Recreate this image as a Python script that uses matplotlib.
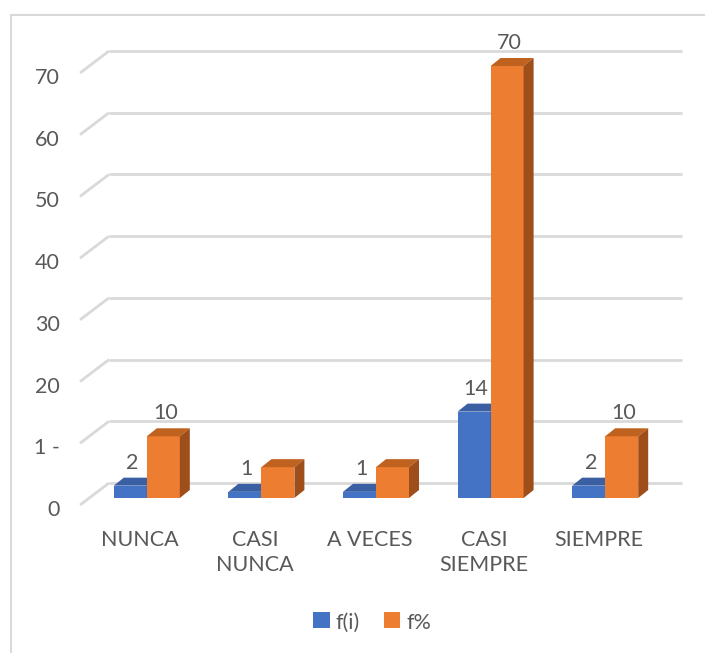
import matplotlib
matplotlib.use("Agg")
import matplotlib.pyplot as plt
from matplotlib.patches import Polygon, Patch
from matplotlib.lines import Line2D
import matplotlib.transforms as mtransforms

# ---- data ----
categories = ["NUNCA", "CASI\nNUNCA", "A VECES", "CASI\nSIEMPRE", "SIEMPRE"]
fi_values = [2, 1, 1, 14, 2]
fpct_values = [10, 5, 5, 70, 10]
fi_labels = ["2", "1", "1", "14", "2"]
fpct_labels = ["10", "", "", "70", "10"]
y_ticks = [0, 10, 20, 30, 40, 50, 60, 70]
y_tick_labels = ["0", "1 -", "20", "30", "40", "50", "60", "70"]
series_names = ["f(i)", "f%"]

W, H = 705, 653
fig = plt.figure(figsize=(W / 100, H / 100), dpi=100)
fig.patch.set_facecolor("white")

FONT = "Lato"
TXT = "#595959"
GRID = "#D9D9D9"
FS = 15.5

# front plane axes
ax = fig.add_axes([80 / W, 148 / H, 573 / W, 432 / H])
ax.set_xlim(-0.5, len(categories) - 0.5)
ax.set_ylim(0, 70)
ax.axis("off")

px_x = 573 / len(categories)     # pixels per category
px_y = 432 / 70                  # pixels per unit

# offsets (pixels)
back_off = mtransforms.ScaledTranslation(29 / 100, 22 / 100, fig.dpi_scale_trans)
bar_off = mtransforms.ScaledTranslation(9.5 / 100, 7 / 100, fig.dpi_scale_trans)
back_tr = ax.transData + back_off
bar_tr = ax.transData + bar_off

# gridlines (back wall + side diagonals)
xl0, xl1 = ax.get_xlim()
for v in y_ticks:
    ax.plot([xl0, xl1], [v, v], color=GRID, lw=2, transform=back_tr,
            zorder=1, solid_capstyle="butt", clip_on=False)
    dxd = 29 / px_x
    dyd = 22 / px_y
    ax.plot([xl0, xl0 + dxd], [v, v + dyd], color=GRID, lw=2,
            zorder=1, solid_capstyle="butt", clip_on=False)

# y tick labels
for v, lab in zip(y_ticks, y_tick_labels):
    ax.annotate(lab, xy=(xl0, v), xytext=(-20, -5), textcoords="offset pixels",
                ha="right", va="center", fontsize=FS, color=TXT, family=FONT,
                annotation_clip=False)

# bars
bw = 33 / px_x
ddx = 10 / px_x
ddy = 8 / px_y
colors = [("#4472C4", "#3A5FA3", "#2F528F"), ("#ED7D31", "#C0621F", "#9E4E1B")]

for i in range(len(categories)):
    for s, (vals, labs) in enumerate([(fi_values, fi_labels), (fpct_values, fpct_labels)]):
        h = vals[i]
        x0 = i - bw + s * bw
        x1 = x0 + bw
        front, top, side = colors[s]
        ax.bar(x0, h, width=bw, align="edge", color=front, transform=bar_tr,
               zorder=3 + s, clip_on=False, linewidth=0)
        ax.add_patch(Polygon([(x0, h), (x1, h), (x1 + ddx, h + ddy), (x0 + ddx, h + ddy)],
                             closed=True, facecolor=top, edgecolor="none",
                             transform=bar_tr, zorder=3 + s, clip_on=False))
        ax.add_patch(Polygon([(x1, 0), (x1, h), (x1 + ddx, h + ddy), (x1 + ddx, ddy)],
                             closed=True, facecolor=side, edgecolor="none",
                             transform=bar_tr, zorder=3 + s, clip_on=False))
        if labs[i]:
            ax.annotate(labs[i], xy=(x0 + bw / 2, h), xytext=(2, 13),
                        textcoords="offset pixels", xycoords=bar_tr,
                        ha="center", va="bottom", fontsize=FS, color=TXT,
                        family=FONT, annotation_clip=False, zorder=6)

# category labels
for i, cat in enumerate(categories):
    ax.annotate(cat, xy=(i, 0), xytext=(3, -25), textcoords="offset pixels",
                ha="center", va="top", fontsize=FS, color=TXT, family=FONT,
                linespacing=1.3, annotation_clip=False)

# legend
handles = [Patch(facecolor=colors[0][0], edgecolor="none"),
           Patch(facecolor=colors[1][0], edgecolor="none")]
leg = fig.legend(handles, series_names, loc="center", bbox_to_anchor=(372 / W, 30 / H),
                 ncol=2, frameon=False, handlelength=0.6, handleheight=0.6,
                 handletextpad=0.45, columnspacing=1.1,
                 prop={"family": FONT, "size": FS})
for t in leg.get_texts():
    t.set_color(TXT)
for p in leg.get_patches():
    p.set_width(12)
    p.set_height(12)

# chart border (left and top visible)
fig.add_artist(Line2D([11 / W, 11 / W], [0, (H - 15) / H], color=GRID, lw=1.5,
                      transform=fig.transFigure))
fig.add_artist(Line2D([11 / W, 1], [(H - 15) / H, (H - 15) / H], color=GRID, lw=1.5,
                      transform=fig.transFigure))

fig.savefig("out.png", dpi=100, facecolor="white")
